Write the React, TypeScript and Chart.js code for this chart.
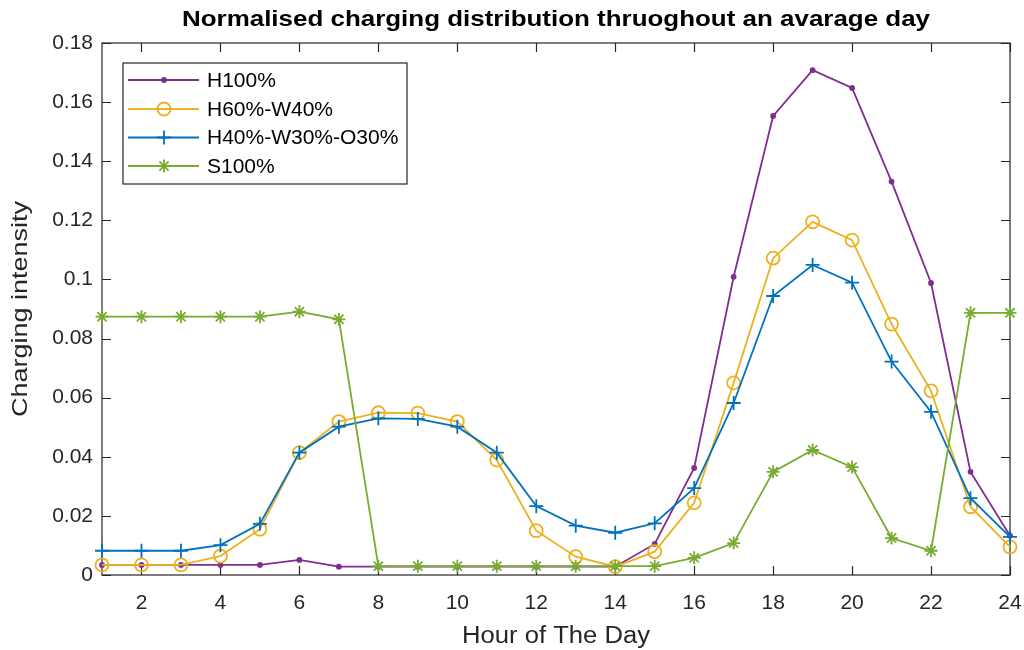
import React, { useEffect, useRef } from 'react';
import { Chart, registerables } from 'chart.js';
import { drawPoint } from 'chart.js/helpers';

Chart.register(...registerables);

// Hour of the day (x axis)
const hours = [1, 2, 3, 4, 5, 6, 7, 8, 9, 10, 11, 12, 13, 14, 15, 16, 17, 18, 19, 20, 21, 22, 23, 24];

// Normalised charging intensity per scenario
const h100 = [0.0034, 0.0034, 0.0034, 0.0034, 0.0034, 0.0051, 0.0028, 0.0028, 0.0028, 0.0028, 0.0028, 0.0028, 0.0028, 0.0028, 0.0105, 0.0362, 0.1009, 0.1553, 0.1708, 0.1648, 0.1331, 0.0988, 0.0349, 0.0133];
const h60w40 = [0.0034, 0.0034, 0.0034, 0.0064, 0.0155, 0.0414, 0.0519, 0.0549, 0.0548, 0.0519, 0.0389, 0.0150, 0.0062, 0.0028, 0.0079, 0.0244, 0.0650, 0.1072, 0.1195, 0.1133, 0.0849, 0.0623, 0.0231, 0.0095];
const h40w30o30 = [0.0082, 0.0082, 0.0082, 0.0101, 0.0173, 0.0414, 0.0502, 0.0530, 0.0528, 0.0502, 0.0414, 0.0233, 0.0167, 0.0143, 0.0175, 0.0294, 0.0582, 0.0944, 0.1049, 0.0989, 0.0722, 0.0552, 0.0260, 0.0129];
const s100 = [0.0874, 0.0874, 0.0874, 0.0874, 0.0874, 0.0891, 0.0865, 0.0030, 0.0030, 0.0030, 0.0030, 0.0030, 0.0030, 0.0030, 0.0030, 0.0058, 0.0108, 0.0349, 0.0423, 0.0365, 0.0125, 0.0082, 0.0887, 0.0887];

const seriesLabels = ['H100%', 'H60%-W40%', 'H40%-W30%-O30%', 'S100%'];

// Axis ticks
const xTickValues = [2, 4, 6, 8, 10, 12, 14, 16, 18, 20, 22, 24];
const yTickValues = [0, 0.02, 0.04, 0.06, 0.08, 0.1, 0.12, 0.14, 0.16, 0.18];

const titleText = 'Normalised charging distribution thruoghout an avarage day';
const xTitle = 'Hour of The Day';
const yTitle = 'Charging intensity';

const FONT = '"Liberation Sans", Arial, Helvetica, sans-serif';
const INK = '#262626';

const PURPLE = '#7E2F8E';
const ORANGE = '#EDB120';
const BLUE = '#0072BD';
const GREEN = '#77AC30';

const toPoints = (vals: number[]) => vals.map((v, i) => ({ x: hours[i], y: v }));

// Draws a label centred at (cx, cy), stretched horizontally to the given width
function drawStretched(ctx: CanvasRenderingContext2D, text: string, cx: number, cy: number, width: number, font: string, color: string, vertical = false) {
  ctx.save();
  ctx.font = font;
  ctx.fillStyle = color;
  ctx.textAlign = 'center';
  ctx.textBaseline = 'middle';
  const w = ctx.measureText(text).width;
  ctx.translate(cx, cy);
  if (vertical) ctx.rotate(-Math.PI / 2);
  ctx.scale(width / w, 1);
  ctx.fillText(text, 0, 0);
  ctx.restore();
}

// Box around the axes with inward tick marks, titles and legend
const framePlugin = {
  id: 'framePlugin',
  beforeDatasetsDraw(chart: any) {
    const { ctx, chartArea: a, scales } = chart;
    const tl = 9;
    ctx.save();
    ctx.strokeStyle = INK;
    ctx.lineWidth = 1.2;
    ctx.strokeRect(a.left, a.top, a.right - a.left, a.bottom - a.top);
    ctx.beginPath();
    for (const v of xTickValues) {
      const x = Math.round(scales.x.getPixelForValue(v)) + 0.5;
      ctx.moveTo(x, a.bottom);
      ctx.lineTo(x, a.bottom - tl);
      ctx.moveTo(x, a.top);
      ctx.lineTo(x, a.top + tl);
    }
    for (const v of yTickValues) {
      const y = Math.round(scales.y.getPixelForValue(v)) + 0.5;
      ctx.moveTo(a.left, y);
      ctx.lineTo(a.left + tl, y);
      ctx.moveTo(a.right, y);
      ctx.lineTo(a.right - tl, y);
    }
    ctx.stroke();
    ctx.restore();
  },
  afterDraw(chart: any) {
    const { ctx, chartArea: a } = chart;
    const cx = (a.left + a.right) / 2;
    drawStretched(ctx, titleText, cx, 19.5, 748, `bold 22px ${FONT}`, '#000');
    drawStretched(ctx, xTitle, cx, 636.5, 188, `23px ${FONT}`, INK);
    drawStretched(ctx, yTitle, 21, (a.top + a.bottom) / 2, 216, `22px ${FONT}`, INK, true);

    // legend
    ctx.save();
    const lx = 123, ly = 63, lw = 284, lh = 121;
    ctx.fillStyle = '#fff';
    ctx.fillRect(lx, ly, lw, lh);
    ctx.strokeStyle = INK;
    ctx.lineWidth = 1.2;
    ctx.strokeRect(lx, ly, lw, lh);
    const rows = [80, 109, 137.5, 166];
    chart.data.datasets.forEach((ds: any, i: number) => {
      const y = rows[i];
      ctx.strokeStyle = ds.borderColor;
      ctx.lineWidth = ds.borderWidth;
      ctx.beginPath();
      ctx.moveTo(128, y);
      ctx.lineTo(199, y);
      ctx.stroke();
      ctx.fillStyle = ds.pointBackgroundColor;
      ctx.strokeStyle = ds.pointBorderColor;
      ctx.lineWidth = ds.pointBorderWidth;
      drawPoint(ctx, { pointStyle: ds.pointStyle, radius: ds.pointRadius, borderWidth: ds.pointBorderWidth, rotation: 0 }, 164, y);
      ctx.fillStyle = '#000';
      ctx.font = `21px ${FONT}`;
      ctx.textAlign = 'left';
      ctx.textBaseline = 'middle';
      ctx.fillText(ds.label, 207, y + 1);
    });
    ctx.restore();
  },
};

export default function App() {
  const canvasRef = useRef<HTMLCanvasElement | null>(null);

  useEffect(() => {
    document.body.style.margin = '0';
    const canvas = canvasRef.current;
    if (!canvas) return;

    const line = (label: string, data: number[], color: string, style: string, radius: number, fill: string, order: number) => ({
      label,
      data: toPoints(data),
      borderColor: color,
      borderWidth: 1.8,
      pointStyle: style,
      pointRadius: radius,
      pointBorderColor: color,
      pointBackgroundColor: fill,
      pointBorderWidth: 1.8,
      pointHoverRadius: radius,
      tension: 0,
      clip: false,
      order,
    });

    const chart = new Chart(canvas, {
      type: 'line',
      data: {
        datasets: [
          line(seriesLabels[0], h100, PURPLE, 'circle', 2, PURPLE, 3),
          line(seriesLabels[1], h60w40, ORANGE, 'circle', 6.5, 'rgba(0,0,0,0)', 2),
          line(seriesLabels[2], h40w30o30, BLUE, 'cross', 7, BLUE, 1),
          line(seriesLabels[3], s100, GREEN, 'star', 6.5, GREEN, 0),
        ],
      },
      options: {
        responsive: false,
        animation: false,
        events: [],
        layout: { padding: { left: 0, top: 43, right: 14, bottom: 0 } },
        plugins: {
          legend: { display: false },
          title: { display: false },
          tooltip: { enabled: false },
        },
        scales: {
          x: {
            type: 'linear',
            min: 1,
            max: 24,
            afterBuildTicks: (scale: any) => {
              scale.ticks = xTickValues.map((v) => ({ value: v }));
            },
            afterFit: (scale: any) => {
              scale.height = 75;
              scale.paddingLeft = 0;
              scale.paddingRight = 0;
            },
            grid: { display: false, drawTicks: false },
            border: { display: false },
            ticks: {
              color: INK,
              font: { family: FONT, size: 21 },
              padding: 16,
              maxRotation: 0,
              autoSkip: false,
              callback: (v: any) => String(v),
            },
          },
          y: {
            type: 'linear',
            min: 0,
            max: 0.18,
            afterBuildTicks: (scale: any) => {
              scale.ticks = yTickValues.map((v) => ({ value: v }));
            },
            afterFit: (scale: any) => {
              scale.width = 102;
              scale.paddingTop = 0;
              scale.paddingBottom = 0;
            },
            grid: { display: false, drawTicks: false },
            border: { display: false },
            ticks: {
              color: INK,
              font: { family: FONT, size: 21 },
              padding: 9,
              autoSkip: false,
              callback: (v: any) => String(parseFloat(Number(v).toFixed(2))),
            },
          },
        },
      },
      plugins: [framePlugin],
    } as any);

    return () => chart.destroy();
  }, []);

  return (
    <div style={{ width: 1024, height: 650, background: '#fff' }}>
      <canvas ref={canvasRef} width={1024} height={650} style={{ display: 'block' }} />
    </div>
  );
}
